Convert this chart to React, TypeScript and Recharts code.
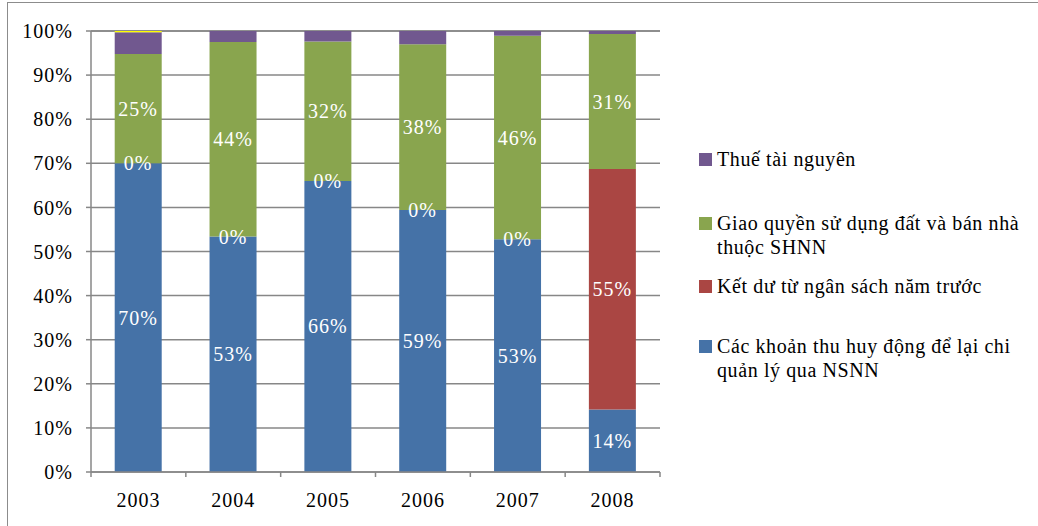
import { Bar, BarChart, CartesianGrid, LabelList, XAxis, YAxis } from "recharts";

const YEARS = ["2003", "2004", "2005", "2006", "2007", "2008"];

const CAC_KHOAN = [70, 53.4, 66, 59.4, 52.8, 14.2];
const KET_DU = [0, 0, 0, 0, 0, 54.5];
const GIAO_QUYEN = [24.8, 44.1, 31.6, 37.6, 46.1, 30.6];
const THUE = [4.9, 2.5, 2.4, 3.0, 1.1, 0.7];
const KHAC = [0.3, 0, 0, 0, 0, 0];

const Y_TICKS = [0, 10, 20, 30, 40, 50, 60, 70, 80, 90, 100];

const SERIES = [
  { key: "cacKhoan", name: "Các khoản thu huy động để lại chi quản lý qua NSNN", color: "#4572A7", label: true },
  { key: "ketDu", name: "Kết dư từ ngân sách năm trước", color: "#AA4643", label: true },
  { key: "giaoQuyen", name: "Giao quyền sử dụng đất và bán nhà thuộc SHNN", color: "#89A54E", label: true },
  { key: "thue", name: "Thuế tài nguyên", color: "#71588F", label: false },
  { key: "khac", name: "", color: "#FFFF00", label: false },
];

// legend is listed top-down in reverse stack order, yellow not shown
const LEGEND_TOPS = [153, 217, 280, 340];

const FONT = "Liberation Serif, DejaVu Serif, Times New Roman, serif";
const GRID = "#878787";

const data = YEARS.map((year, i) => ({
  year,
  cacKhoan: CAC_KHOAN[i],
  ketDu: KET_DU[i],
  giaoQuyen: GIAO_QUYEN[i],
  thue: THUE[i],
  khac: KHAC[i],
}));

function labelText(cx: number, cy: number, value: number) {
  return (
    <text
      x={cx}
      y={cy}
      fill="#ffffff"
      fontSize={20}
      fontFamily={FONT}
      letterSpacing={1}
      textAnchor="middle"
      dominantBaseline="central"
    >
      {Math.round(value)}%
    </text>
  );
}

function SegmentLabel(props: any) {
  const { x, y, width, height, value } = props;
  if (value == null || !height) return null;
  return labelText(x + width / 2, y + height / 2, value);
}

// zero-height segments get no rect of their own, so their "0%" sits on top of the segment below
function ZeroLabel(props: any) {
  const { x, y, width, value } = props;
  if (value !== 0) return null;
  return labelText(x + width / 2, y, value);
}

function YearTick(props: any) {
  const { x, y, payload, index } = props;
  const half = payload?.offset ?? 47.4;
  const last = index === YEARS.length - 1;
  const axisY = y - 8;
  return (
    <g>
      <line x1={x - half} x2={x - half} y1={axisY} y2={axisY + 5} stroke={GRID} strokeWidth={1.5} />
      {last && <line x1={x + half} x2={x + half} y1={axisY} y2={axisY + 5} stroke={GRID} strokeWidth={1.5} />}
      <text
        x={x}
        y={axisY + 28}
        fill="#000"
        fontSize={20}
        fontFamily={FONT}
        letterSpacing={1}
        textAnchor="middle"
        dominantBaseline="central"
      >
        {payload.value}
      </text>
    </g>
  );
}

export default function App() {
  const legendItems = SERIES.filter((s) => s.name).reverse();
  return (
    <div
      style={{
        position: "absolute",
        left: 0,
        top: 0,
        width: 1038,
        height: 526,
        overflow: "hidden",
        background: "#fff",
        fontFamily: FONT,
      }}
    >
      <div
        style={{
          position: "absolute",
          left: 7,
          top: 2,
          width: 1100,
          height: 600,
          border: "1.5px solid #8c8c8c",
        }}
      />
      <div style={{ position: "absolute", left: 0, top: 0 }}>
        <BarChart
          width={1038}
          height={526}
          data={data}
          margin={{ top: 31, right: 378, left: 0, bottom: 0 }}
          barCategoryGap="25%"
        >
          <CartesianGrid vertical={false} stroke={GRID} strokeWidth={1.5} />
          <XAxis
            dataKey="year"
            height={54}
            axisLine={{ stroke: GRID, strokeWidth: 1.5 }}
            tickLine={false}
            tick={<YearTick />}
            interval={0}
          />
          <YAxis
            width={91}
            domain={[0, 100]}
            ticks={Y_TICKS}
            interval={0}
            tickFormatter={(v: number) => `${v}%`}
            axisLine={{ stroke: GRID, strokeWidth: 1.5 }}
            tickLine={{ stroke: GRID, strokeWidth: 1.5 }}
            tickSize={5}
            tickMargin={13}
            tick={{ fill: "#000", fontSize: 20, fontFamily: FONT, letterSpacing: 1 }}
          />
          {SERIES.map((s) => (
            <Bar key={s.key} dataKey={s.key} stackId="a" fill={s.color} isAnimationActive={false}>
              {s.label && <LabelList dataKey={s.key} content={<SegmentLabel />} />}
              {s.key === "cacKhoan" && <LabelList dataKey="ketDu" content={<ZeroLabel />} />}
            </Bar>
          ))}
        </BarChart>
      </div>
      {legendItems.map((s, i) => (
        <div
          key={s.key}
          style={{
            position: "absolute",
            left: 699,
            top: LEGEND_TOPS[i],
            width: 335,
            display: "flex",
            alignItems: "flex-start",
          }}
        >
          <span
            style={{
              width: 13,
              height: 13,
              background: s.color,
              flex: "none",
              marginRight: 5,
            }}
          />
          <span
            style={{
              fontSize: 20,
              lineHeight: "24px",
              marginTop: -6,
              letterSpacing: 0.6,
              color: "#000",
            }}
          >
            {s.name}
          </span>
        </div>
      ))}
    </div>
  );
}
